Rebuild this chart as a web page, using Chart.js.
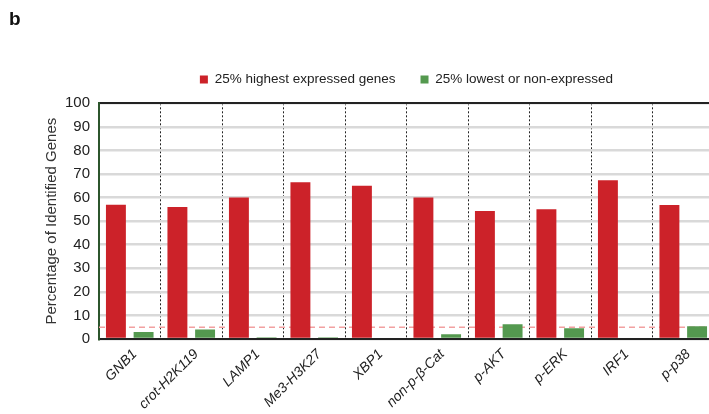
<!DOCTYPE html>
<html>
<head>
<meta charset="utf-8">
<script src="https://cdn.jsdelivr.net/npm/chart.js@4"></script>
<style>
  html, body { margin: 0; padding: 0; overflow: hidden; background: #fff; }
  canvas { display: block; }
</style>
</head>
<body>
<canvas id="grafico" width="716" height="414"></canvas>
<script>
// Datos
const categorias = ['GNB1', 'crot-H2K119', 'LAMP1', 'Me3-H3K27', 'XBP1', 'non-p-β-Cat', 'p-AKT', 'p-ERK', 'IRF1', 'p-p38'];
const valoresAltos = [57, 56, 60, 66.5, 65, 60, 54.3, 55, 67.4, 56.8];  // 25% highest expressed genes
const valoresBajos = [3, 4, 0.7, 0.7, 0, 2, 6.3, 4.6, 0, 5.4];          // 25% lowest or non-expressed
const ticksY = [0, 10, 20, 30, 40, 50, 60, 70, 80, 90, 100];
const umbral = 5; // línea discontinua roja

const fuente = 'Liberation Sans, Arial, sans-serif';

// Plugin que dibuja la línea del umbral detrás de las barras
const lineaUmbral = {
  id: 'lineaUmbral',
  beforeDatasetsDraw(chart) {
    const { ctx, chartArea, scales } = chart;
    const y = scales.y.getPixelForValue(umbral);
    ctx.save();
    ctx.strokeStyle = '#f2a0a0';
    ctx.lineWidth = 1.5;
    ctx.setLineDash([6, 4]);
    ctx.beginPath();
    ctx.moveTo(chartArea.left, y);
    ctx.lineTo(chartArea.right, y);
    ctx.stroke();
    ctx.restore();
  }
};

const ctx = document.getElementById('grafico').getContext('2d');
new Chart(ctx, {
  type: 'bar',
  data: {
    labels: categorias,
    datasets: [{
      label: '25% highest expressed genes',
      data: valoresAltos,
      backgroundColor: '#cc2229',
      categoryPercentage: 0.9,
      barPercentage: 0.72
    }, {
      label: '25% lowest or non-expressed',
      data: valoresBajos,
      backgroundColor: '#54994f',
      categoryPercentage: 0.9,
      barPercentage: 0.72
    }]
  },
  options: {
    responsive: false,
    animation: false,
    layout: { padding: { left: 9, right: 2, top: 0, bottom: 0 } },
    plugins: {
      title: {
        display: true,
        text: 'b',
        align: 'start',
        color: '#111',
        font: { family: fuente, size: 19, weight: 'bold' },
        padding: { top: 8, bottom: 17 }
      },
      legend: {
        fullSize: false, // centrada sobre el área del gráfico
        labels: {
          boxWidth: 8,
          boxHeight: 8,
          padding: 25,
          color: '#222',
          font: { family: fuente, size: 13.5 }
        }
      },
      tooltip: { enabled: false }
    },
    scales: {
      x: {
        grid: {
          offset: true,
          drawTicks: false,
          lineWidth: 1,
          color: c => c.index === 0 ? 'rgba(0,0,0,0)' : '#222'
        },
        border: { display: true, color: '#222', width: 2, dash: [2, 2] },
        ticks: {
          autoSkip: false,
          minRotation: 45,
          maxRotation: 45,
          padding: 7,
          labelOffset: 5,
          color: '#222',
          font: { family: fuente, size: 14, style: 'italic' }
        },
        afterFit: s => { s.height = 75; }
      },
      x2: {
        type: 'category',
        position: 'top',
        grid: { display: false, drawTicks: false },
        ticks: { display: false },
        border: { display: true, color: '#222', width: 2 },
        afterFit: s => { s.height = 7; }
      },
      y: {
        min: 0,
        max: 100,
        afterBuildTicks: s => { s.ticks = ticksY.map(v => ({ value: v })); },
        grid: { color: '#d9d9d9', lineWidth: 2.5, drawTicks: false },
        border: { display: true, color: '#2c552c', width: 2 },
        ticks: { padding: 9, color: '#222', font: { family: fuente, size: 15 } },
        title: {
          display: true,
          text: 'Percentage of Identified Genes',
          color: '#333',
          font: { family: fuente, size: 15 },
          padding: { top: 34, bottom: 0 }
        },
        afterFit: s => { s.width = 90; }
      }
    }
  },
  plugins: [lineaUmbral]
});
</script>
</body>
</html>
